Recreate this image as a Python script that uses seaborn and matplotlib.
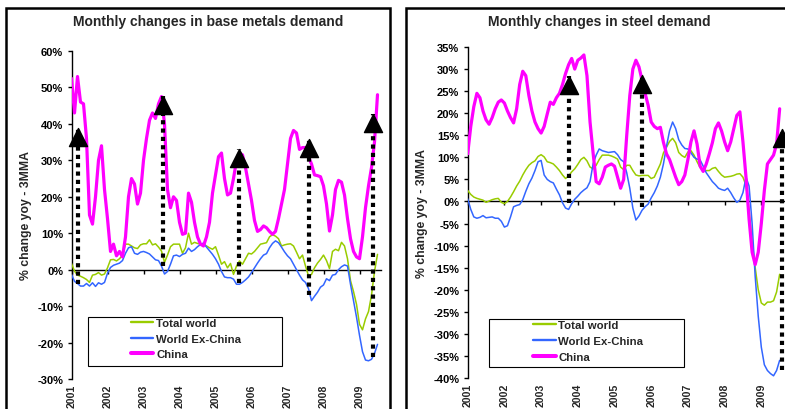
import numpy as np
import pandas as pd
import matplotlib
matplotlib.use("Agg")
import matplotlib.pyplot as plt
import seaborn as sns
from matplotlib.patches import Rectangle
from matplotlib.path import Path
from matplotlib.lines import Line2D

sns.set_style("white")
plt.rcParams['font.family'] = ['Liberation Sans', 'DejaVu Sans']
plt.rcParams['font.weight'] = 'bold'
plt.rcParams['axes.labelweight'] = 'bold'

# ---------------- data ----------------
start_year = 2001
years = list(range(2001, 2010))
year_labels = [str(y) for y in years]
series_names = ["Total world", "World Ex-China", "China"]

titles = ["Monthly changes in base metals demand", "Monthly changes in steel demand"]
ylabel = "% change yoy - 3MMA"

metals_yticks = [-30, -20, -10, 0, 10, 20, 30, 40, 50, 60]
steel_yticks = [-40, -35, -30, -25, -20, -15, -10, -5, 0, 5, 10, 15, 20, 25, 30, 35]

metals_total = [1.7, -0.4, -1.5, -1.8, -2.2, -2.7, -3.5, -1.5, -1.3, -0.8,
                -1.5, -1.2, 0.5, 2.7, 2.8, 2.4, 3, 4, 7, 7,
                6.5, 6, 5.8, 6.8, 7.1, 7.1, 8.2, 6.8, 7.1, 6.2,
                5.1, 2.0, 4, 6.3, 7, 7, 7, 4.5, 6, 10,
                7, 7.5, 7.2, 7, 7, 6.5, 6, 5.6, 6.3, 4,
                1.5, 2.2, 0.5, 1.7, -1.3, 1, 2.4, 1.5, 3, 4.5,
                4.3, 5, 6, 7, 7.2, 7.4, 9, 9.6, 9.2, 8.5,
                6.5, 6.8, 7, 7.1, 6.5, 4.8, 3, 4, 1, -1.7,
                -1.3, 0.5, 1.8, 2.8, 4, 2.5, 0.3, 5, 5.6, 5.2,
                7.5, 6.5, 3, -3, -6, -9.5, -15, -16.5, -13.5, -11.5,
                -7, -0.5, 4.2]
metals_exchina = [-1.3, -3.2, -3.8, -4.5, -4.5, -3.8, -4.5, -3.6, -4.6, -3.6,
                  -4, -3.5, -1, 0.6, 1.2, 1.5, 1.8, 2.5, 4.5, 6,
                  6.3, 4.5, 4.2, 4.8, 5, 4.7, 4.3, 3.5, 2.7, 2.5,
                  1, -1.2, -0.5, 1.5, 3.8, 4, 3.6, 4.2, 4.5, 5.9,
                  5, 5.5, 6.3, 6.9, 7.3, 6.2, 5.2, 4.2, 3, 1.5,
                  -0.5, -2, -2.2, -2.2, -2.6, -4, -4, -3.5, -2.8, -2,
                  -0.8, 0.5, 1.8, 3, 4, 4.4, 6, 7.2, 7.9, 7.4,
                  6.2, 4.9, 3.8, 3, 1.5, 0, -1.5, -2.8, -3.5, -5.2,
                  -8.5, -7.3, -6.2, -4.8, -4.2, -2.5, -3, -1.5, -1.3, 0,
                  0.8, 1.3, 1, -4, -8.5, -13, -18, -22.5, -24.8, -25,
                  -24.6, -23, -20.5]
metals_china = [52.5, 43, 53, 46, 45.5, 36, 15, 12.5, 20, 30,
                34, 22, 14, 5, 7, 3.8, 5, 3.5, 9, 20,
                25, 23.5, 18, 21, 30, 36, 41, 43, 41.5, 45.5,
                47.5, 40, 22, 17, 20, 19, 13, 9.7, 10, 21,
                18.5, 13, 9, 7, 6.5, 9, 13, 21, 26, 31,
                32, 25, 20.5, 21, 25, 30, 32, 31.5, 28, 23.5,
                19, 13.5, 10.5, 11, 12, 11.5, 10.5, 9.7, 10.5, 14,
                18, 22, 29, 36, 38.2, 37.5, 33, 33.5, 33.5, 31,
                29, 26, 25.8, 25.5, 23, 18, 10.6, 15, 22, 24.5,
                24, 20.5, 14, 8.5, 5, 3.5, 3, 9, 17, 23,
                28, 35, 48]

steel_total = [2.5, 1.6, 1, 0.7, 0.5, 0.3, -0.2, 0.1, 0.4, 0.6,
               0.7, -0.2, -0.5, 0, 1, 2.2, 3.5, 4.6, 6, 7.2,
               8.2, 8.8, 9.2, 10.2, 10.6, 10.1, 9, 8.8, 8.5, 7.8,
               7, 6, 5.2, 5.8, 6.7, 7.4, 8.4, 9.5, 10, 9.2,
               7.8, 7.4, 8.2, 9.5, 10.5, 10.5, 10.5, 10.3, 10, 9.6,
               7.8, 7.2, 8.2, 8.2, 7, 6, 5.8, 5.9, 5.9, 5.9,
               5.2, 5.5, 7, 8.5, 11, 12.3, 13.6, 14.3, 13.3, 11.1,
               10.4, 10, 11.2, 11.5, 10.5, 9, 7.7, 7, 7, 7,
               7.5, 7.7, 6.8, 6, 5.5, 5.6, 5.7, 5.9, 6.2, 6.3,
               5.5, 3.6, -2, -9, -15, -20, -23, -23.5, -22.8, -22.8,
               -22.5, -20.5, -16.5]
steel_exchina = [0.6, -1.8, -3.5, -3.8, -3.6, -3.2, -3.7, -3.6, -3.5, -3.8,
                 -3.8, -4.5, -5.8, -5.5, -3.5, -1.2, -0.9, -0.7, 0.4, 2.3,
                 4, 5.3, 7, 9, 9.3, 6, 5, 4.5, 4.2, 2.8,
                 1.5, -0.3, -1.5, -1.8, -0.5, 0.5, 1.2, 2, 2.6, 3.1,
                 4.5, 8.5, 10.5, 11.9, 11.5, 11.3, 11.1, 11.2, 11.3, 10.6,
                 9.5, 9, 6.5, 3, -1.5, -4.2, -3.3, -2, -1.2, -0.6,
                 0.8, 2, 3.5, 5.5, 8.5, 12.5, 16, 18, 16.5, 14,
                 12.8, 12, 11.9, 11, 10, 9.6, 9.4, 8, 6.5, 5.5,
                 4.5, 3.8, 3, 2.7, 2.5, 3, 2, 0.8, -0.2, 0.3,
                 2, 5.5, 3.5, -5, -17, -26, -33, -37, -38.3, -39,
                 -39.5, -38.3, -36]
steel_china = [10.8, 17, 21.5, 24.5, 23.5, 20.5, 18.5, 17.5, 19, 21,
               22.5, 23, 22.3, 20.5, 19, 17.8, 21, 26.5, 29.5, 28.5,
               24, 20.5, 18, 16.5, 15.5, 17, 19.8, 22.5, 22, 23.5,
               24.5, 26.5, 29, 31, 32.4, 30, 32, 32.5, 33.2, 28.5,
               18, 11, 4.5, 4, 5.5, 7.8, 8.2, 8.5, 8, 5.5,
               3, 5, 15, 24, 30, 32, 30.5, 27.5, 24.5, 21.8,
               18, 17, 16.5, 16.8, 13.4, 10.8, 9.5, 7.5, 5.5, 3.8,
               4.5, 6, 9.5, 13.5, 16, 13, 8, 6.8, 8.5, 10.8,
               13.3, 16.5, 17.8, 16, 13.5, 11.5, 13.5, 16.5, 19.5, 20.3,
               13.5, 5.5, -4, -11.5, -14.3, -11.5, -5, 2.5, 8.5, 9.5,
               10.5, 13, 21]

# arrows: (x in years, bottom value, tip value)
metals_arrows_x = [2001.19, 2003.55, 2005.65, 2007.61, 2009.37]
metals_arrows_lo = [-4, 1, -3.7, -6.9, -24]
metals_arrows_hi = [39, 47.7, 33, 35.8, 42.7]
steel_arrows_x = [2003.76, 2005.76, 2009.56]
steel_arrows_lo = [-0.3, -1.3, -38.1]
steel_arrows_hi = [28.4, 28.7, 16.4]

# ---------------- styling ----------------
GREEN = "#99CC00"
BLUE = "#3366FF"
MAGENTA = "#FF00FF"
colors = [GREEN, BLUE, MAGENTA]
widths = [1.1, 1.1, 2.3]

W, H = 785, 410
fig = plt.figure(figsize=(W / 100, H / 100), dpi=100)
fig.patch.set_facecolor("white")


def px_axes(x0, y_top, x1, y_bot):
    return fig.add_axes([x0 / W, 1 - y_bot / H, (x1 - x0) / W, (y_bot - y_top) / H])


axL = px_axes(71.5, 52, 71.5 + 8.6 * 36, 380)
axR = px_axes(467.7, 48, 467.7 + 8.9 * 36.7, 379)

tri = Path([(0, 0), (-0.5, -1), (0.5, -1), (0, 0)],
           [Path.MOVETO, Path.LINETO, Path.LINETO, Path.CLOSEPOLY])

panels = [
    (axL, [metals_total, metals_exchina, metals_china], metals_yticks, (-30, 60), (2001, 2009.6),
     (metals_arrows_x, metals_arrows_lo, metals_arrows_hi)),
    (axR, [steel_total, steel_exchina, steel_china], steel_yticks, (-40, 35), (2001, 2009.9),
     (steel_arrows_x, steel_arrows_lo, steel_arrows_hi)),
]

for ax, vals, yt, ylim, xlim, arr in panels:
    n = len(vals[0])
    months = start_year + np.arange(n) / 12.0
    df = pd.DataFrame({"x": np.tile(months, 3),
                       "value": np.concatenate(vals),
                       "series": np.repeat(series_names, n)})
    for name, c, lw in zip(series_names, colors, widths):
        sns.lineplot(data=df[df.series == name], x="x", y="value", ax=ax,
                     color=c, linewidth=lw, legend=False, zorder=3)
    for xa, lo, hi in zip(*arr):
        ax.plot([xa, xa], [lo, hi], color="black", lw=3, linestyle=(0, (1, 1)),
                zorder=5, solid_capstyle="butt")
        ax.plot([xa], [hi], marker=tri, markersize=26, color="black",
                linestyle="none", zorder=6, clip_on=False)
    ax.set_xlim(*xlim)
    ax.set_ylim(*ylim)
    ax.set_yticks(yt)
    ax.set_yticklabels([f"{v}%" for v in yt], fontsize=8, fontweight="bold")
    ax.set_xlabel("")
    ax.set_ylabel(ylabel, fontsize=8.8, fontweight="bold")
    for s in ["top", "right"]:
        ax.spines[s].set_visible(False)
    ax.spines["left"].set_color("black")
    ax.spines["left"].set_linewidth(1)
    ax.spines["bottom"].set_position(("data", 0))
    ax.spines["bottom"].set_color("black")
    ax.spines["bottom"].set_linewidth(1)
    ax.set_xticks(years)
    ax.tick_params(axis="x", bottom=True, direction="out", length=3, width=1,
                   color="black", labelbottom=False)
    ax.tick_params(axis="y", left=True, direction="out", length=3, width=1,
                   color="black", pad=3, labelcolor="black")
    sec = ax.secondary_xaxis(0)
    sec.set_xticks(years)
    sec.set_xticklabels(year_labels, rotation=90, fontsize=7.6, fontweight="bold")
    sec.tick_params(length=0, pad=3.2)
    sec.spines["bottom"].set_visible(False)
    ax.set_facecolor("white")

axL.yaxis.set_label_coords(-0.128, 0.5)
axR.yaxis.set_label_coords(-0.1216, 0.5)

# titles
fig.text(208 / W, 1 - 26 / H, titles[0], ha="center", va="baseline", fontsize=10, fontweight="bold")
fig.text(599 / W, 1 - 26 / H, titles[1], ha="center", va="baseline", fontsize=10, fontweight="bold")

# legends
handles = [Line2D([], [], color=c, lw=lw + 0.6) for c, lw in zip(colors, widths)]
for (hx, top), (bx0, by0, bx1, by1) in [((131, 319.0), (87.7, 318.3, 282.3, 366.7)),
                                       ((533.3, 321.3), (489.3, 320, 684.3, 368.3))]:
    fig.legend(handles, series_names, loc="upper left", bbox_to_anchor=(hx / W, 1 - top / H),
               frameon=False, borderpad=0, borderaxespad=0, handlelength=1.95,
               handletextpad=0.25, labelspacing=0.5, prop={"size": 8.2, "weight": "bold"})
    fig.patches.append(Rectangle((bx0 / W, 1 - by1 / H), (bx1 - bx0) / W, (by1 - by0) / H,
                                 transform=fig.transFigure, fill=False, ec="black", lw=0.8))

# panel frames
fig.patches.append(Rectangle((6 / W, -0.1), (389.5 - 6) / W, 1 - 8.5 / H + 0.1,
                             transform=fig.transFigure, fill=False, ec="black", lw=1.8))
fig.patches.append(Rectangle((406.2 / W, -0.1), 1.0, 1 - 8.5 / H + 0.1,
                             transform=fig.transFigure, fill=False, ec="black", lw=1.8))

fig.savefig("out.png", dpi=100)
